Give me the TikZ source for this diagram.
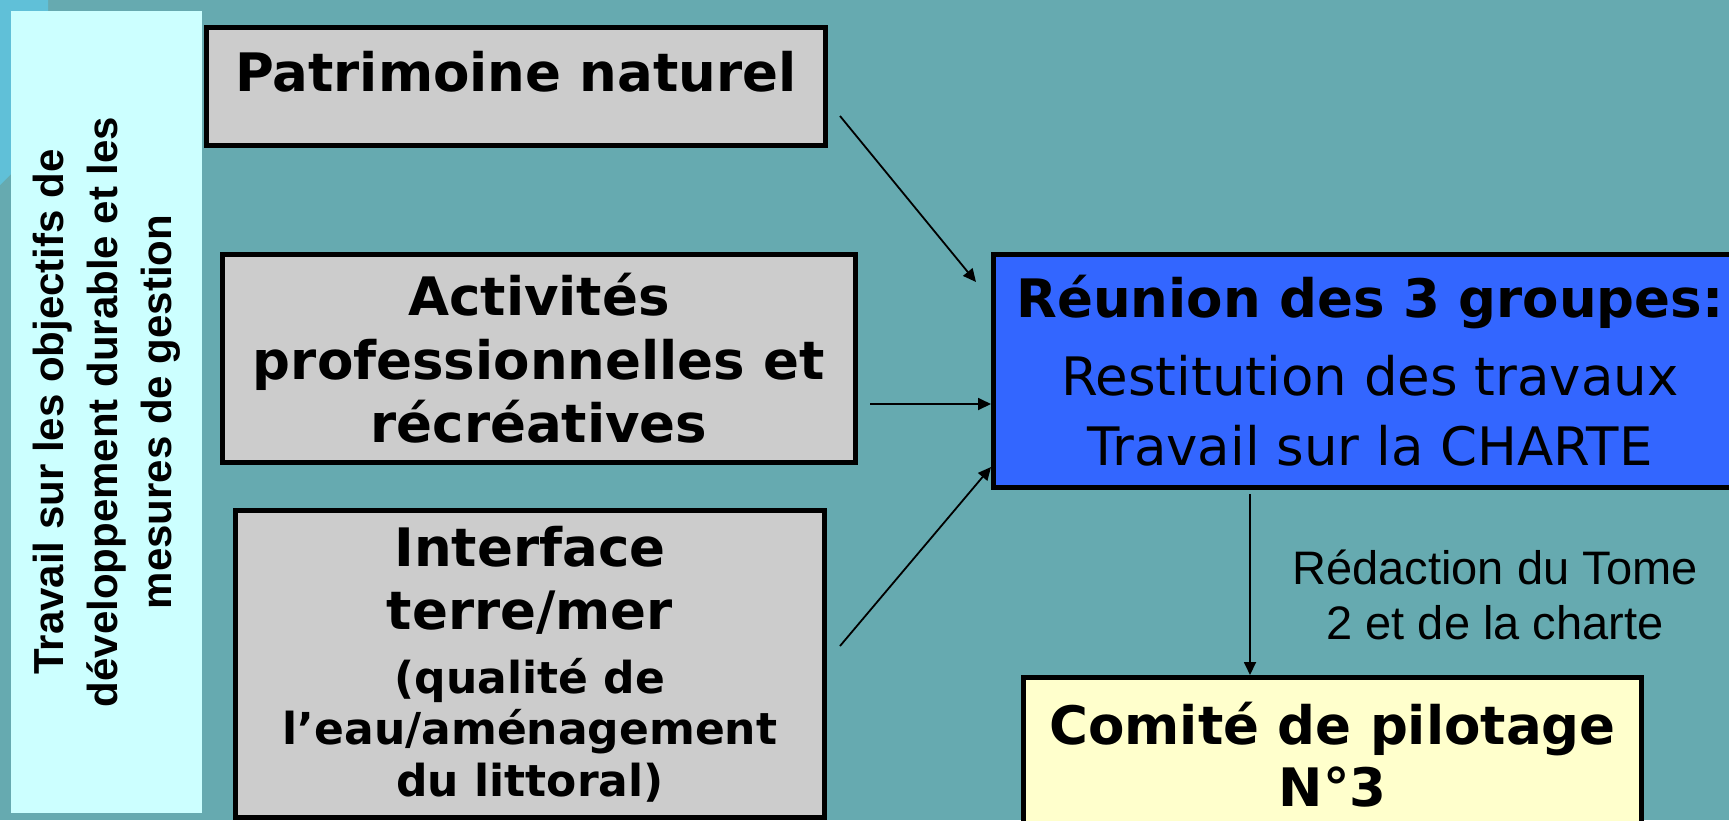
\documentclass[tikz,border=0pt]{standalone}
\usepackage{fontspec}
\setmainfont{DejaVu Sans}
\newfontfamily\arialfont{Liberation Sans}
\usetikzlibrary{arrows.meta}
\definecolor{seabg}{HTML}{66AAB0}
\definecolor{cornerblue}{HTML}{60C0D8}
\definecolor{panelcyan}{HTML}{CCFFFF}
\definecolor{boxgrey}{HTML}{CCCCCC}
\definecolor{meetblue}{HTML}{3366FF}
\definecolor{copilyellow}{HTML}{FFFFCC}

\begin{document}
\begin{tikzpicture}[x=0.5pt,y=-0.5pt,
		groupbox/.style={draw=black,line width=2.5pt,fill=boxgrey,inner sep=0pt,align=center,
			font=\bfseries\fontsize{26.5}{31.75}\selectfont},
		flow/.style={-{Triangle[length=6.5pt,width=6pt]},line width=0.9pt}]
		\useasboundingbox (0,0) rectangle (1729,820);
		\clip (0,0) rectangle (1729,820);
		\fill[seabg] (0,0) rectangle (1729,820);
		\fill[cornerblue] (0,0) -- (48,0) -- (48,137) -- (0,185) -- cycle;

		\node[fill=panelcyan,rotate=90,minimum width=401pt,minimum height=95.5pt,inner sep=0pt,align=center,
			font=\arialfont\bfseries\fontsize{21}{27}\selectfont] (panel) at (106.5,412)
			{Travail sur les objectifs de\\développement durable et les\\mesures de gestion};

		\node[groupbox,minimum width=309.5pt,text height=31.75pt,text depth=27.25pt] (patri) at (516,86.5) {Patrimoine naturel};
		\node[groupbox,minimum width=316.5pt,minimum height=104pt] (activ) at (539,358.5)
			{Activités\\professionnelles et\\récréatives};
		\node[groupbox,minimum width=294.5pt,minimum height=153.5pt] (iface) at (530,664)
			{Interface\\terre/mer\\\fontsize{22}{25.5}\selectfont(qualité de\\[-6pt]
			\fontsize{22}{25.5}\selectfont l’eau/aménagement\\[-6pt]\fontsize{22}{25.5}\selectfont du littoral)};
		\node[groupbox,fill=meetblue,minimum width=376.5pt,minimum height=116.5pt,font=\fontsize{26.5}{35}\selectfont] (reunion) at (1370,371)
			{\textbf{Réunion des 3 groupes:}\\[4pt]Restitution des travaux\\Travail sur la CHARTE};
		\node[groupbox,fill=copilyellow,minimum width=309pt,minimum height=77.5pt,font=\bfseries\fontsize{26.5}{31}\selectfont] (comite) at (1332.5,755)
			{Comité de pilotage\\N°3};
		\node[align=center,inner sep=0pt,font=\arialfont\fontsize{23.5}{27.5}\selectfont] (redac) at (1495,595)
			{Rédaction du Tome\\2 et de la charte};

		\coordinate (pout) at (840,116);
		\coordinate (pin) at (976,282);
		\draw[flow] (pout) -- (pin);
		\coordinate (aout) at (870,404);
		\draw[flow] (aout) -- (aout -| reunion.west);
		\coordinate (iout) at (840,646);
		\draw[flow] (iout) -- (reunion.west |- 0,467);
		\coordinate (rout) at (1250,494);
		\draw[flow] (rout) -- (rout |- comite.north);
	\end{tikzpicture}
\end{document}
